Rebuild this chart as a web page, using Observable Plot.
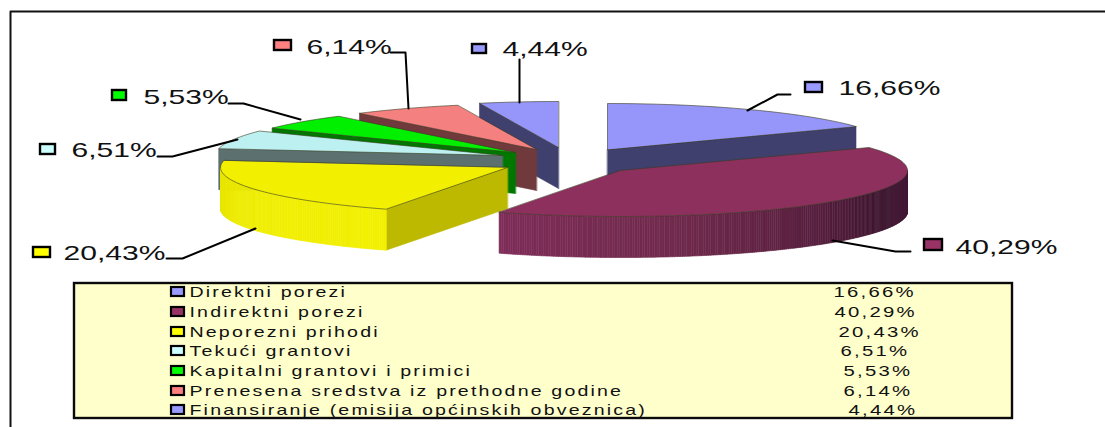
<!DOCTYPE html>
<html>
<head>
<meta charset="utf-8">
<script src="https://cdn.jsdelivr.net/npm/d3@7"></script>
<script src="https://cdn.jsdelivr.net/npm/@observablehq/plot@0.6"></script>
<style>html,body{margin:0;padding:0;background:#fff}svg{display:block}</style>
</head>
<body>
<div id="chart"></div>
<script>
// --- data
const categories = ["Direktni porezi","Indirektni porezi","Neporezni prihodi","Tekući grantovi","Kapitalni grantovi i primici","Prenesena sredstva iz prethodne godine","Finansiranje (emisija općinskih obveznica)"];
const shares = [16.66,40.29,20.43,6.51,5.53,6.14,4.44];
const tops  = ["#9696FA","#8E305E","#F2F000","#BDF0F0","#00F000","#F58080","#9696FA"];
const keys  = ["#9999FF","#993366","#FFFF00","#CCFFFF","#00FF00","#FF8080","#9999FF"];
const walls = ["#40406E","#4A1A36","#BDB800","#5C7070","#007800","#703A3C","#40406E"];

// --- layout of the exploded 3D pie (apex of every slice, ellipse radii, depth)
const apexX = [607,620,507,502,515,536,558];
const apexY = [149,170,167,155,152,149,147];
const radiusX = 287, radiusY = 46, depth = 41;
const paintOrder = [6,5,4,3,0,2,1];

// --- layout of the callouts
const labelX = [838,955,63,71,143,306,502];
const labelY = [93,252,258,155,102,52,54];
const keyX1 = [805,924,33,40,112,274,472];
const keyX2 = [822,942,50,55,126,291,486];
const keyY1 = [82,239,247,144,90,40,44];
const keyY2 = [92,250,257,154,100,50,53];
const leaderX = [[747,777,790],[832,895,910],[255,182,166],[237,172,157],[300,243,228],[408,405,390],[519,519]];
const leaderY = [[110,94,94],[240,251,251],[228,258,258],[139,156,156],[119,103,103],[108,52,52],[102,59]];

// --- layout of the table
const rowY = [292,312,332,351,371,391,410];
const rowValueX = [833,834,838,840,843,843,848];

const fmt = v => v.toFixed(2).replace(".", ",") + "%";
const rad = d => d * Math.PI / 180;

// slices from values
let acc = 0;
const slices = shares.map((v, i) => {
  const a0 = acc / 100 * 360; acc += v; const a1 = acc / 100 * 360;
  return {i, a0, a1, ax: apexX[i], ay: apexY[i]};
});
const rimPt = (s, a) => ({x: s.ax + radiusX * Math.sin(rad(a)), y: s.ay - radiusY * Math.cos(rad(a))});

const maroonShade = d3.scaleLinear().domain([205,170,140,115,90]).range(["#7E2C58","#702A4C","#5A2040","#3C142E","#47193A"]);
const yellowShade = d3.scaleLinear().domain([205,240,270]).range(["#F2F000","#F0EE00","#E8E600"]);

const poly = [];
let nf = 0;
function face(points, fill, stroke) {
  const id = nf++;
  points.forEach(p => poly.push({x: p.x, y: p.y, face: id, fill, stroke}));
}
for (const k of paintOrder) {
  const s = slices[k];
  const apex = {x: s.ax, y: s.ay};
  const down = p => ({x: p.x, y: p.y + depth});
  const wall = walls[k];
  // radial walls that face the viewer
  if (s.a0 > 180) { const p = rimPt(s, s.a0); face([apex, p, down(p), down(apex)], wall, wall); }
  if (s.a1 < 180) { const p = rimPt(s, s.a1); face([apex, p, down(p), down(apex)], wall, wall); }
  // outer rim, cut in narrow strips so it can carry the shading
  const lo = Math.max(s.a0, 90), hi = Math.min(s.a1, 270);
  if (lo < hi) {
    const n = Math.ceil((hi - lo) / 0.5);
    for (let j = 0; j < n; j++) {
      const a = lo + (hi - lo) * j / n, b = lo + (hi - lo) * (j + 1) / n;
      const col = k === 1 ? maroonShade((a + b) / 2) : k === 2 ? yellowShade((a + b) / 2) : wall;
      const p = rimPt(s, a), q = rimPt(s, b);
      const c = d3.rgb(col).formatHex();
      face([p, q, down(q), down(p)], c, c);
    }
  }
  // top face
  const arc = [apex];
  const n = Math.ceil((s.a1 - s.a0) / 2);
  for (let j = 0; j <= n; j++) arc.push(rimPt(s, s.a0 + (s.a1 - s.a0) * j / n));
  face(arc, tops[k], "#3a3a22");
}

const keyRows = shares.map((v, i) => ({x1: keyX1[i], x2: keyX2[i], y1: keyY1[i], y2: keyY2[i], fill: keys[i]}));
const callouts = shares.map((v, i) => ({x: labelX[i], y: labelY[i], text: fmt(v)}));
const leaders = leaderX.flatMap((xs, i) => xs.map((x, j) => ({x, y: leaderY[i][j], i})));
const rows = categories.map((c, i) => ({name: c, value: fmt(shares[i]), y: rowY[i], vx: rowValueX[i],
  x1: 171, x2: 184, y1: rowY[i] - 5, y2: rowY[i] + 4, fill: keys[i]}));
const frame = [{x: 10, y: 427}, {x: 10, y: 11}, {x: 1105, y: 11}];
const tableBox = [{x1: 74, x2: 1012, y1: 283, y2: 418}];

const chart = Plot.plot({
  width: 1105, height: 427, margin: 0,
  x: {domain: [0, 1105], range: [0, 1105], axis: null},
  y: {domain: [0, 427], range: [0, 427], axis: null},
  color: {type: "identity"},
  style: {background: "#fff"},
  marks: [
    Plot.line(frame, {x: "x", y: "y", stroke: "#111", strokeWidth: 2, curve: "linear"}),
    Plot.line(poly, {x: "x", y: "y", z: "face", fill: "fill", stroke: "stroke", strokeWidth: 0.6, strokeLinejoin: "round", curve: "linear-closed"}),
    Plot.line(leaders, {x: "x", y: "y", z: "i", stroke: "#000", strokeWidth: 2, curve: "linear"}),
    Plot.rect(keyRows, {x1: "x1", x2: "x2", y1: "y1", y2: "y2", fill: "fill", stroke: "#000", strokeWidth: 2.4}),
    Plot.text(callouts, {x: "x", y: "y", text: "text", textAnchor: "start", lineAnchor: "bottom", dy: 1.5, fontSize: 21, fontFamily: "Liberation Sans", fill: "#111"}),
    Plot.rect(tableBox, {x1: "x1", x2: "x2", y1: "y1", y2: "y2", fill: "#FFFFCC", stroke: "#0a0a0a", strokeWidth: 2.4}),
    Plot.rect(rows, {x1: "x1", x2: "x2", y1: "y1", y2: "y2", fill: "fill", stroke: "#000", strokeWidth: 2.2}),
    Plot.text(rows, {x: 189, y: "y", text: "name", textAnchor: "start", fontSize: 14.5, fontFamily: "Liberation Sans", fill: "#111"}),
    Plot.text(rows, {x: "vx", y: "y", text: "value", textAnchor: "start", fontSize: 14.5, fontFamily: "Liberation Sans", fill: "#111"})
  ]
});
document.getElementById("chart").appendChild(chart);

// the source picture is stretched sideways: widen glyphs, and space the table's letters
chart.querySelectorAll("text").forEach(t => {
  const big = t.parentNode.getAttribute("font-size") === "21" || t.getAttribute("font-size") === "21";
  const isValue = /%$/.test(t.textContent);
  if (!big) t.style.letterSpacing = "1.6px";
  const len = t.getComputedTextLength();
  const factor = big ? 1.43 : isValue ? 1.4 : 1.35;
  t.setAttribute("textLength", (len * factor).toFixed(1));
  t.setAttribute("lengthAdjust", "spacingAndGlyphs");
});
</script>
</body>
</html>
